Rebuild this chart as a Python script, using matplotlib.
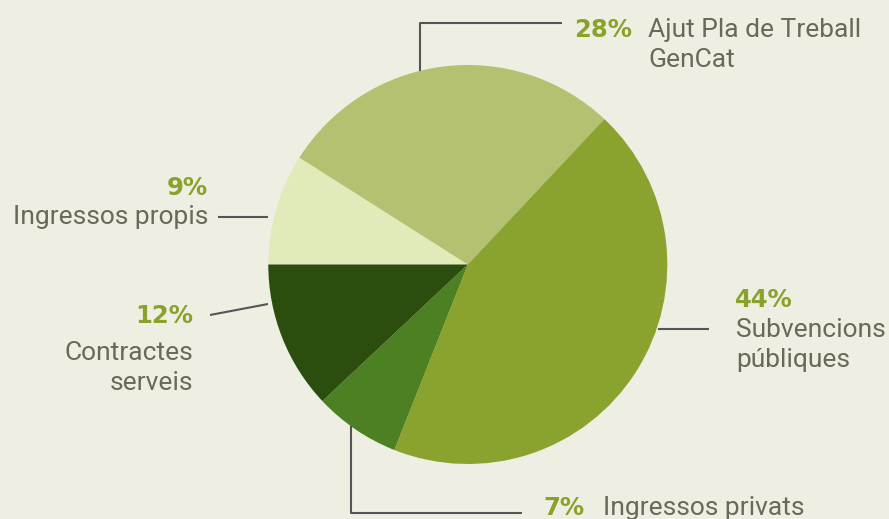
import matplotlib.pyplot as plt

# data, clockwise from 9 o'clock
labels = ["Ingressos propis", "Ajut Pla de Treball\nGenCat", "Subvencions\npúbliques",
          "Ingressos privats", "Contractes\nserveis"]
values = [9, 28, 44, 7, 12]
wedge_colors = ["#e1ebb9", "#b3c171", "#8aa22e", "#4c8022", "#2b4e0e"]

BG = "#eeefe2"
PCT = "#89a22c"
TXT = "#6b6759"
LINE = "#555555"
FONT = "Roboto"
FS = 19
PCT_FONT = "DejaVu Sans"
PCT_FS = 17.5
LH = 30  # line height in px

fig = plt.figure(figsize=(8.89, 5.19), dpi=100, facecolor=BG)
ax = fig.add_axes([0, 0, 1, 1])
ax.set_facecolor(BG)

# y axis inverted (pixel-like coords) -> counterclock=True draws clockwise on screen
ax.pie(values, colors=wedge_colors, startangle=180, counterclock=True,
       center=(467.8, 264.5), radius=199.5, wedgeprops=dict(linewidth=0))
ax.set_xlim(0, 889)
ax.set_ylim(519, 0)
ax.set_aspect("equal")
ax.axis("off")


def leader(xs, ys):
    ax.plot(xs, ys, color=LINE, lw=1.5, solid_capstyle="butt", zorder=3)


def label(i, px, py, ha, lx, ly, lha):
    ax.text(px, py, f"{values[i]}%", color=PCT, fontsize=PCT_FS, fontweight="bold",
            family=PCT_FONT, ha=ha, va="baseline")
    for k, line in enumerate(labels[i].split("\n")):
        ax.text(lx, ly + k * LH, line, color=TXT, fontsize=FS, family=FONT,
                ha=lha, va="baseline")


# Ajut Pla de Treball
leader([420, 420, 562], [71, 23, 23])
label(1, 632, 37, "right", 648, 37, "left")

# Ingressos propis
leader([218, 268], [216.5, 216.5])
label(0, 208, 195, "right", 208, 224, "right")

# Contractes serveis
leader([210, 268], [315, 304])
label(4, 193, 323, "right", 193, 360, "right")

# Subvencions publiques
leader([658, 709], [329, 329])
label(2, 735, 307, "left", 736, 337, "left")

# Ingressos privats
leader([351, 351, 522], [426, 513, 513])
label(3, 543, 515, "left", 603, 515, "left")

fig.savefig("out.png", dpi=100, facecolor=BG)
